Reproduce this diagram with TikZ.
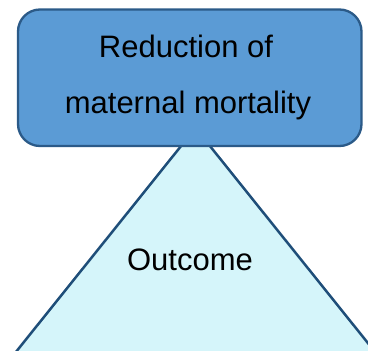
\documentclass[tikz,border=0pt]{standalone}
\usepackage{fontspec}
\setmainfont{Liberation Sans}
\definecolor{boxfill}{HTML}{5B9BD5}
\definecolor{boxline}{HTML}{2B5A88}
\definecolor{trifill}{HTML}{D5F5FA}
\definecolor{triline}{HTML}{1F4E79}
\begin{document}
\begin{tikzpicture}[x=1pt,y=-1pt,
  lbl/.style={anchor=base,inner sep=0pt,font=\fontsize{31}{37}\selectfont}]
\useasboundingbox (0,0) rectangle (368,351);
\begin{scope}
\clip (0,0) rectangle (368,351);
\draw[fill=trifill,draw=triline,line width=2.5pt,line join=miter]
  (195.5,128) -- (375.5,352.5) -- (15.5,352.5) -- cycle;
\end{scope}
\draw[fill=boxfill,draw=boxline,line width=2.3pt,rounded corners=22pt]
  (18,9.5) rectangle (361.5,146);
\node[lbl] (l1) at (186,57) {Reduction of};
\node[lbl] (l2) at (188,113) {maternal mortality};
\node[lbl] (out) at (190,270) {Outcome};
\end{tikzpicture}
\end{document}
